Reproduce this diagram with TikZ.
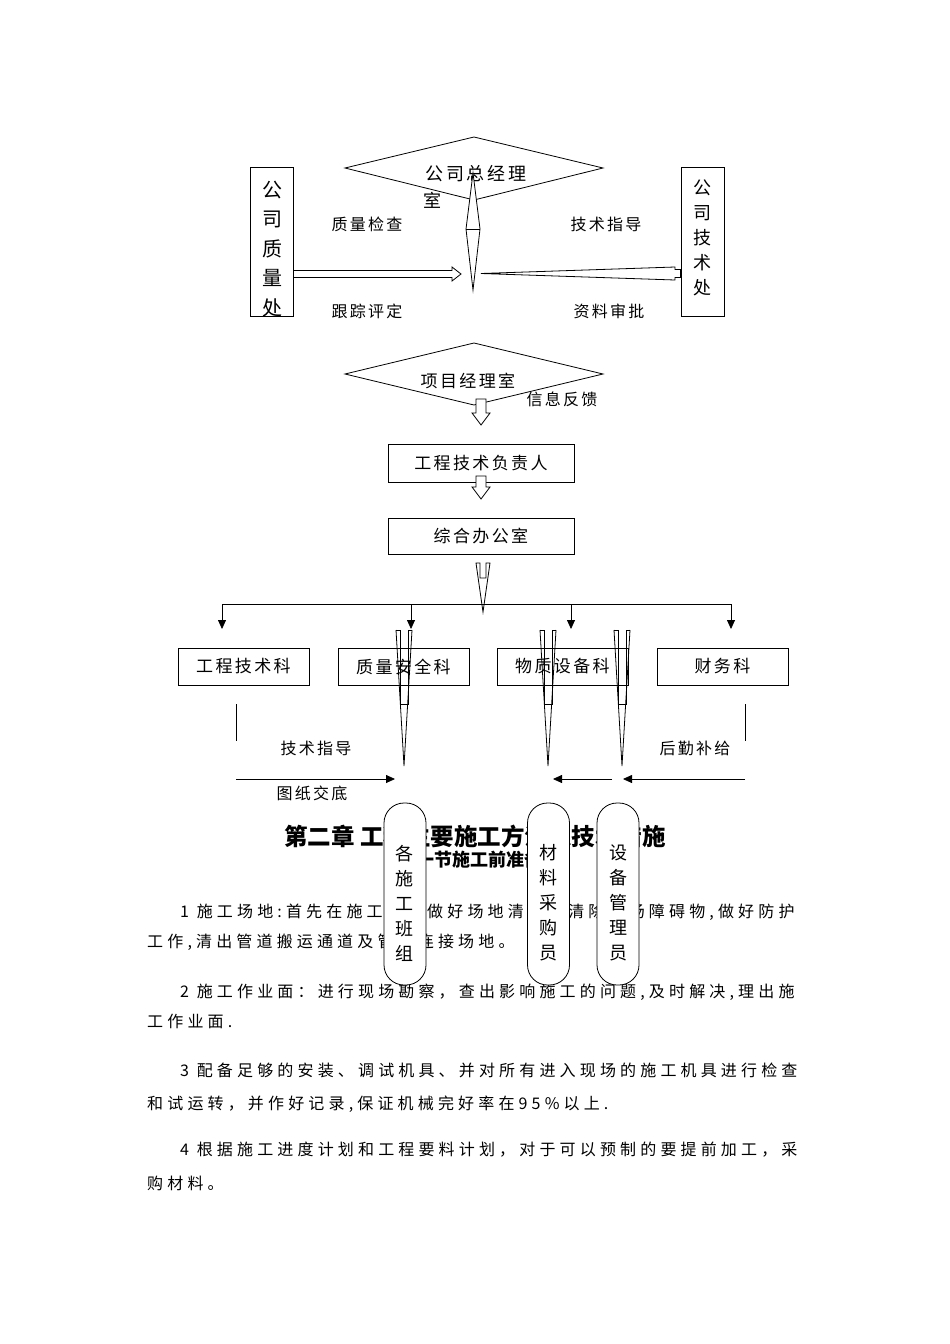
\documentclass[tikz,border=0pt]{standalone}
\usepackage{fontspec}
\setmainfont{Noto Sans CJK SC}
\newfontfamily\cjk{Noto Sans CJK SC}
\newfontfamily\cjksp[LetterSpace=14]{Noto Sans CJK SC}
\newfontfamily\cjkbody[LetterSpace=26]{Noto Sans CJK SC}
\usetikzlibrary{arrows.meta}
\begin{document}
\begin{tikzpicture}[x=1pt,y=-1pt,
  lbl/.style={font=\cjksp\fontsize{16}{16}\selectfont,inner sep=0pt},
  boxlbl/.style={draw,thick,font=\cjksp\fontsize{17}{17}\selectfont,inner sep=0pt},
  vlbl/.style={font=\cjk\fontsize{18}{25}\selectfont,align=center,inner sep=0pt},
  body/.style={font=\cjkbody\fontsize{16}{16}\selectfont,anchor=west,inner sep=0pt},
  ln/.style={line width=0.8pt},
  arr/.style={ln,-{Triangle[length=9pt,width=8pt]}},
  oval/.style={draw,thick,fill=white,rounded corners=20pt,minimum width=42pt,minimum height=182pt,inner sep=0pt}]
\useasboundingbox (0,0) rectangle (950,1344);
% top
\draw[ln] (345,168)--(474,137)--(603,168)--(474,200)--cycle;
\node[lbl,font=\cjksp\fontsize{18}{18}\selectfont] (gmt) at (476,174) {公司总经理};
\node[lbl,font=\cjksp\fontsize{18}{18}\selectfont] (gmt2) at (432,200) {室};
\node[draw,thick,minimum width=43pt,minimum height=149pt,inner sep=0pt] (qb) at (271.5,241.5) {};
\node[vlbl,font=\cjk\fontsize{20}{29.5}\selectfont] (qt) at (272,249) {公\\司\\质\\量\\处};
\node[draw,thick,minimum width=43pt,minimum height=149pt,inner sep=0pt] (tb) at (702.5,241.5) {};
\node[vlbl] (tt) at (702,238) {公\\司\\技\\术\\处};
\draw[ln,fill=white] (473,173)--(480,229)--(473,290)--(466,229)--cycle;
\draw[ln] (466,229)--(480,229);
\draw[ln] (qb.east|-0,270.5)--(452,270.5)--(452,267)--(461,274)--(452,281)--(452,277.5)--(qb.east|-0,277.5);
\draw[ln] (481,273.5)--(675,267)--(675,269.5)--(tb.west|-0,269.5)--(tb.west|-0,277.5)--(675,277.5)--(675,280)--cycle;
\node[lbl] (l1) at (367,224) {质量检查};
\node[lbl] (l2) at (606,224) {技术指导};
\node[lbl] (l3) at (367,311) {跟踪评定};
\node[lbl] (l4) at (609,311) {资料审批};
% project manager
\draw[ln] (345,374)--(474,343)--(603,374)--(474,405)--cycle;
\node[lbl,font=\cjksp\fontsize{17}{17}\selectfont] (pm) at (468,381) {项目经理室};
\node[lbl] (fb) at (562,399) {信息反馈};
\draw[ln,fill=white] (476,399)--(486,399)--(486,413)--(490,413)--(481,425)--(472,413)--(476,413)--cycle;
\node[boxlbl,minimum width=186pt,minimum height=38pt] (eng) at (481,463) {工程技术负责人};
\draw[ln,fill=white] (476,476)--(486,476)--(486,487)--(490,487)--(481,499)--(472,487)--(476,487)--cycle;
\node[boxlbl,minimum width=186pt,minimum height=36pt] (off) at (481,536) {综合办公室};
\draw[ln] (476,563)--(483,612)--(490,563)--(486,563)--(486,578)--(480,578)--(480,563)--cycle;
% distribution
\draw[ln] (222,604)--(731,604);
\foreach \x in {222,411,571,731}{\draw[arr] (\x,604)--(\x,629);}
\node[boxlbl,minimum width=131pt,minimum height=37pt] (k1) at (243.5,666.5) {工程技术科};
\node[boxlbl,minimum width=131pt,minimum height=37pt] (k2) at (403.5,666.5) {质量安全科};
\node[boxlbl,minimum width=131pt,minimum height=37pt] (k3) at (562.5,666.5) {物质设备科};
\node[boxlbl,minimum width=131pt,minimum height=37pt] (k4) at (722.5,666.5) {财务科};
\foreach \c in {404,548,622}{
  \draw[ln] (\c-8,630)--(\c,766)--(\c+8,630);
  \draw[ln] (\c-4,630)--(\c-4,704)--(\c+4,704)--(\c+4,630);
  \draw[ln] (\c-8,630)--(\c-4,630) (\c+4,630)--(\c+8,630);
}
\draw[ln] (236,704)--(236,741);
\draw[ln] (745,704)--(745,741);
\node[lbl] (m1) at (316,748) {技术指导};
\node[lbl] (m2) at (695,748) {后勤补给};
\node[lbl] (m3) at (312,793) {图纸交底};
\coordinate (a1) at (236,779); \coordinate (a2) at (395,779);
\coordinate (b1) at (612,779); \coordinate (b2) at (553,779);
\coordinate (c1) at (745,779); \coordinate (c2) at (623,779);
\draw[arr] (a1)--(a2);
\draw[arr] (b1)--(b2);
\draw[arr] (c1)--(c2);
% text
\node[font=\cjk\bfseries\fontsize{23.5}{24}\selectfont,inner sep=0pt] (t1) at (475,836) {第二章 工程主要施工方法及技术措施};
\node[font=\cjk\bfseries\fontsize{18}{18}\selectfont,inner sep=0pt] (t2) at (470,860) {第一节施工前准备};
\node[body] (p1) at (180,912) {1 施工场地:首先在施工现场做好场地清理，清除现场障碍物,做好防护};
\node[body] (p2) at (147,942) {工作,清出管道搬运通道及管道连接场地。};
\node[body] (p3) at (180,992) {2 施工作业面：进行现场勘察，查出影响施工的问题,及时解决,理出施};
\node[body] (p4) at (147,1021) {工作业面.};
\node[body] (p5) at (180,1070) {3 配备足够的安装、调试机具、并对所有进入现场的施工机具进行检查};
\node[body] (p6) at (147,1104) {和试运转，并作好记录,保证机械完好率在95\%以上.};
\node[body] (p7) at (180,1150) {4 根据施工进度计划和工程要料计划，对于可以预制的要提前加工，采};
\node[body] (p8) at (147,1183) {购材料。};
% ovals
\node[oval] (o1) at (405,894) {};
\node[oval] (o2) at (548.5,894) {};
\node[oval] (o3) at (618,894) {};
\node[vlbl] at (404,903) {各\\施\\工\\班\\组};
\node[vlbl] at (548,903) {材\\料\\采\\购\\员};
\node[vlbl] at (618,903) {设\\备\\管\\理\\员};
\end{tikzpicture}
\end{document}
